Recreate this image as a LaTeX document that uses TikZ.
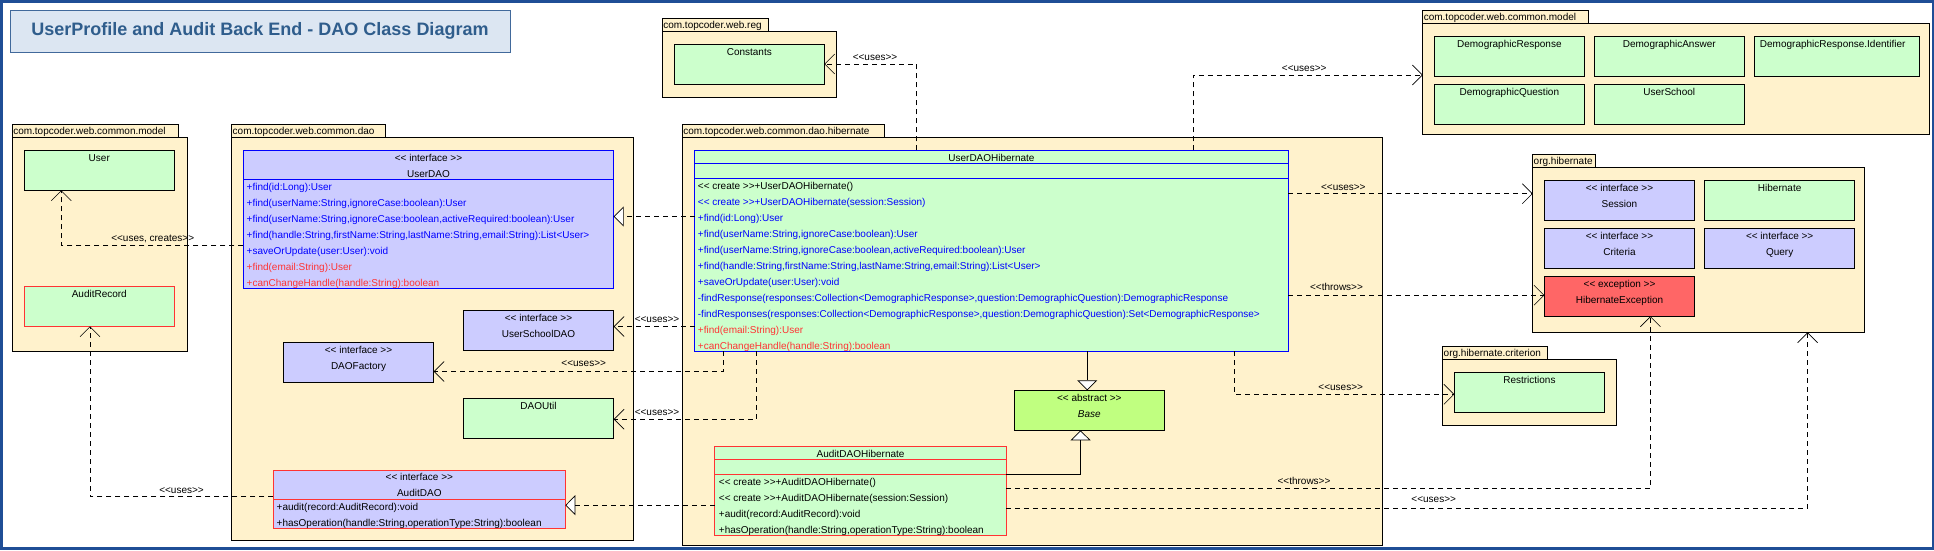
\documentclass[tikz,border=0pt]{standalone}
\usepackage{fontspec}
\setmainfont{Liberation Sans}[Ligatures=TeXOff]
\usetikzlibrary{arrows.meta}
\definecolor{pkgc}{HTML}{FFF2CC}
\definecolor{grnc}{HTML}{CCFFCC}
\definecolor{lavc}{HTML}{CCCCFF}
\definecolor{limec}{HTML}{C0FF80}
\definecolor{excc}{HTML}{FF6666}
\definecolor{mblue}{HTML}{0000FF}
\definecolor{mred}{HTML}{FF3333}
\definecolor{framec}{HTML}{1F4E96}
\definecolor{tfill}{HTML}{DCE6F2}
\definecolor{tdraw}{HTML}{41699B}
\definecolor{ttext}{HTML}{2F5D8C}
\newcommand\mth[5]{\node[txt,anchor=west,text=#4] (#1) at (#2,#3) {#5};}
\begin{document}
\begin{tikzpicture}[x=1pt,y=-1pt,
  every node/.style={inner sep=0pt, outer sep=0pt},
  box/.style={draw, line width=0.9pt, anchor=north west},
  pkgbox/.style={box, fill=pkgc},
  cls/.style={box, fill=grnc},
  ifc/.style={box, fill=lavc},
  txt/.style={font=\fontsize{10}{12}\selectfont, text height=7pt, text depth=0pt},
  dep/.style={draw, line width=0.8pt, dash pattern=on 5pt off 4pt, -{Straight Barb[length=10pt,width=20pt,line width=0.6pt]}},
  gen/.style={draw, line width=0.8pt, -{Triangle[length=10pt,width=20pt,fill=white,line width=0.7pt]}},
  real/.style={gen, dash pattern=on 5pt off 4pt},
  sep/.style={line width=0.9pt}
]
\useasboundingbox (0,0) rectangle (1934,550);
\fill[white] (0,0) rectangle (1934,550);

% title
\node[draw=tdraw, fill=tfill, line width=1pt, anchor=north west, minimum width=500pt, minimum height=42pt,
  font=\fontsize{18}{20}\selectfont\bfseries, text=ttext] (title) at (10,10) {UserProfile and Audit Back End - DAO Class Diagram};

% packages
\node[pkgbox, minimum width=166pt, minimum height=12.7pt] (P1t) at (12.3,124.3) {};
\node[pkgbox, minimum width=175.4pt, minimum height=214pt] (P1b) at (12.3,137) {};
\node[txt, anchor=west] (P1l) at ([xshift=1pt]P1t.west) {com.topcoder.web.common.model};

\node[pkgbox, minimum width=153.3pt, minimum height=13pt] (P2t) at (231.7,124.3) {};
\node[pkgbox, minimum width=401.3pt, minimum height=403.4pt] (P2b) at (231.7,137.3) {};
\node[txt, anchor=west] (P2l) at ([xshift=1pt]P2t.west) {com.topcoder.web.common.dao};

\node[pkgbox, minimum width=106pt, minimum height=13pt] (P3t) at (662.3,18.3) {};
\node[pkgbox, minimum width=174pt, minimum height=66pt] (P3b) at (662.3,31.3) {};
\node[txt, anchor=west] (P3l) at ([xshift=1pt]P3t.west) {com.topcoder.web.reg};

\node[pkgbox, minimum width=202.4pt, minimum height=12.7pt] (P4t) at (682.3,124.3) {};
\node[pkgbox, minimum width=700pt, minimum height=408.3pt] (P4b) at (682.3,137) {};
\node[txt, anchor=west] (P4l) at ([xshift=1pt]P4t.west) {com.topcoder.web.common.dao.hibernate};

\node[pkgbox, minimum width=165.2pt, minimum height=13pt] (P5t) at (1422.8,10.3) {};
\node[pkgbox, minimum width=506.5pt, minimum height=111pt] (P5b) at (1422.8,23.3) {};
\node[txt, anchor=west] (P5l) at ([xshift=1pt]P5t.west) {com.topcoder.web.common.model};

\node[pkgbox, minimum width=62.3pt, minimum height=13pt] (P6t) at (1532.7,154.3) {};
\node[pkgbox, minimum width=331.6pt, minimum height=165pt] (P6b) at (1532.7,167.3) {};
\node[txt, anchor=west] (P6l) at ([xshift=1pt]P6t.west) {org.hibernate};

\node[pkgbox, minimum width=104.7pt, minimum height=13pt] (P7t) at (1442.7,346.3) {};
\node[pkgbox, minimum width=173.5pt, minimum height=66pt] (P7b) at (1442.7,359.3) {};
\node[txt, anchor=west] (P7l) at ([xshift=1pt]P7t.west) {org.hibernate.criterion};

% frame
\draw[framec, line width=2.5pt] (1.25,1.25) rectangle (1932.75,548.5);

% classes: left model
\node[cls, minimum width=150pt, minimum height=40pt] (User) at (24.3,150.3) {};
\node[txt] (User-n) at ([yshift=-7.4pt]User.north) {User};
\node[cls, draw=mred, minimum width=150pt, minimum height=40pt] (ARec) at (24.3,286.3) {};
\node[txt] (ARec-n) at ([yshift=-7.4pt]ARec.north) {AuditRecord};

% dao package
\node[ifc, draw=mblue, minimum width=370.4pt, minimum height=137.6pt] (UDAO) at (243.3,150.7) {};
\node[txt] (UDAO-s) at ([yshift=-7pt]UDAO.north) {<< interface >>};
\node[txt] (UDAO-n) at ([yshift=-23pt]UDAO.north) {UserDAO};
\coordinate (sUD) at (0,179.3);
\draw[sep, mblue] (UDAO.west |- sUD) -- (UDAO.east |- sUD);
\mth{udm1}{246.7}{186.7}{mblue}{+find(id:Long):User}
\mth{udm2}{246.7}{202.7}{mblue}{+find(userName:String,ignoreCase:boolean):User}
\mth{udm3}{246.7}{218.7}{mblue}{+find(userName:String,ignoreCase:boolean,activeRequired:boolean):User}
\mth{udm4}{246.7}{234.7}{mblue}{+find(handle:String,firstName:String,lastName:String,email:String):List<User>}
\mth{udm5}{246.7}{250.7}{mblue}{+saveOrUpdate(user:User):void}
\mth{udm6}{246.7}{266.7}{mred}{+find(email:String):User}
\mth{udm7}{246.7}{282.7}{mred}{+canChangeHandle(handle:String):boolean}

\node[ifc, minimum width=150.4pt, minimum height=40pt] (USDAO) at (463.3,310.3) {};
\node[txt] (USDAO-s) at ([yshift=-7.4pt]USDAO.north) {<< interface >>};
\node[txt] (USDAO-n) at ([yshift=-23.4pt]USDAO.north) {UserSchoolDAO};

\node[ifc, minimum width=150.4pt, minimum height=40pt] (DAOF) at (283.3,342.3) {};
\node[txt] (DAOF-s) at ([yshift=-7.4pt]DAOF.north) {<< interface >>};
\node[txt] (DAOF-n) at ([yshift=-23.4pt]DAOF.north) {DAOFactory};

\node[cls, minimum width=150.4pt, minimum height=39.6pt] (DUtil) at (463.3,398.7) {};
\node[txt] (DUtil-n) at ([yshift=-7.4pt]DUtil.north) {DAOUtil};

\node[ifc, draw=mred, minimum width=292pt, minimum height=57.6pt] (ADAO) at (273.3,470.7) {};
\node[txt] (ADAO-s) at ([yshift=-6.6pt]ADAO.north) {<< interface >>};
\node[txt] (ADAO-n) at ([yshift=-22.6pt]ADAO.north) {AuditDAO};
\coordinate (sAD) at (0,499.3);
\draw[sep, mred] (ADAO.west |- sAD) -- (ADAO.east |- sAD);
\mth{adm1}{276.7}{506.7}{black}{+audit(record:AuditRecord):void}
\mth{adm2}{276.7}{522.7}{black}{+hasOperation(handle:String,operationType:String):boolean}

% reg package
\node[cls, minimum width=150pt, minimum height=40pt] (Const) at (674.3,44.3) {};
\node[txt] (Const-n) at ([yshift=-7.4pt]Const.north) {Constants};

% hibernate dao package
\node[cls, draw=mblue, minimum width=593.9pt, minimum height=200.7pt] (UDH) at (694.5,150.3) {};
\node[txt] (UDH-n) at ([yshift=-7.4pt]UDH.north) {UserDAOHibernate};
\coordinate (sH1) at (0,163.3);
\coordinate (sH2) at (0,178.3);
\draw[sep, mblue] (UDH.west |- sH1) -- (UDH.east |- sH1);
\draw[sep, mblue] (UDH.west |- sH2) -- (UDH.east |- sH2);
\mth{uhm1}{697.9}{185.7}{black}{<< create >>+UserDAOHibernate()}
\mth{uhm2}{697.9}{201.7}{mblue}{<< create >>+UserDAOHibernate(session:Session)}
\mth{uhm3}{697.9}{217.7}{mblue}{+find(id:Long):User}
\mth{uhm4}{697.9}{233.7}{mblue}{+find(userName:String,ignoreCase:boolean):User}
\mth{uhm5}{697.9}{249.7}{mblue}{+find(userName:String,ignoreCase:boolean,activeRequired:boolean):User}
\mth{uhm6}{697.9}{265.7}{mblue}{+find(handle:String,firstName:String,lastName:String,email:String):List<User>}
\mth{uhm7}{697.9}{281.7}{mblue}{+saveOrUpdate(user:User):void}
\mth{uhm8}{697.9}{297.7}{mblue}{-findResponse(responses:Collection<DemographicResponse>,question:DemographicQuestion):DemographicResponse}
\mth{uhm9}{697.9}{313.7}{mblue}{-findResponses(responses:Collection<DemographicResponse>,question:DemographicQuestion):Set<DemographicResponse>}
\mth{uhm10}{697.9}{329.7}{mred}{+find(email:String):User}
\mth{uhm11}{697.9}{345.7}{mred}{+canChangeHandle(handle:String):boolean}

\node[box, fill=limec, minimum width=149.8pt, minimum height=40pt] (Base) at (1014.4,390.3) {};
\node[txt] (Base-s) at ([yshift=-7.4pt]Base.north) {<< abstract >>};
\node[txt, font=\fontsize{10}{12}\selectfont\itshape] (Base-n) at ([yshift=-23.4pt]Base.north) {Base};

\node[cls, draw=mred, minimum width=291.7pt, minimum height=88.6pt] (ADH) at (714.7,446.7) {};
\node[txt] (ADH-n) at ([yshift=-7pt]ADH.north) {AuditDAOHibernate};
\coordinate (sA1) at (0,459.7);
\coordinate (sA2) at (0,474.3);
\draw[sep, mred] (ADH.west |- sA1) -- (ADH.east |- sA1);
\draw[sep, mred] (ADH.west |- sA2) -- (ADH.east |- sA2);
\mth{ahm1}{718.9}{481.7}{black}{<< create >>+AuditDAOHibernate()}
\mth{ahm2}{718.9}{497.7}{black}{<< create >>+AuditDAOHibernate(session:Session)}
\mth{ahm3}{718.9}{513.7}{black}{+audit(record:AuditRecord):void}
\mth{ahm4}{718.9}{529.7}{black}{+hasOperation(handle:String,operationType:String):boolean}

% top-right model
\node[cls, minimum width=149.9pt, minimum height=39.6pt] (DR) at (1434.4,36.7) {};
\node[txt] (DR-n) at ([yshift=-7.6pt]DR.north) {DemographicResponse};
\node[cls, minimum width=149.5pt, minimum height=39.6pt] (DA) at (1594.5,36.7) {};
\node[txt] (DA-n) at ([yshift=-7.6pt]DA.north) {DemographicAnswer};
\node[cls, minimum width=165.1pt, minimum height=39.6pt] (DRI) at (1754.2,36.7) {};
\node[txt] (DRI-n) at ([yshift=-7.6pt,xshift=-4pt]DRI.north) {DemographicResponse.Identifier};
\node[cls, minimum width=149.9pt, minimum height=40pt] (DQ) at (1434.4,84.3) {};
\node[txt] (DQ-n) at ([yshift=-8pt]DQ.north) {DemographicQuestion};
\node[cls, minimum width=149.5pt, minimum height=40pt] (USc) at (1594.5,84.3) {};
\node[txt] (USc-n) at ([yshift=-8pt]USc.north) {UserSchool};

% org.hibernate
\node[ifc, minimum width=150.2pt, minimum height=40pt] (Sess) at (1544.4,180.3) {};
\node[txt] (Sess-s) at ([yshift=-7.4pt]Sess.north) {<< interface >>};
\node[txt] (Sess-n) at ([yshift=-23.4pt]Sess.north) {Session};
\node[cls, minimum width=150.1pt, minimum height=40pt] (Hib) at (1704.6,180.3) {};
\node[txt] (Hib-n) at ([yshift=-7.4pt]Hib.north) {Hibernate};
\node[ifc, minimum width=150.2pt, minimum height=40pt] (Crit) at (1544.4,228.3) {};
\node[txt] (Crit-s) at ([yshift=-7.4pt]Crit.north) {<< interface >>};
\node[txt] (Crit-n) at ([yshift=-23.4pt]Crit.north) {Criteria};
\node[ifc, minimum width=150.1pt, minimum height=40pt] (Query) at (1704.6,228.3) {};
\node[txt] (Query-s) at ([yshift=-7.4pt]Query.north) {<< interface >>};
\node[txt] (Query-n) at ([yshift=-23.4pt]Query.north) {Query};
\node[box, fill=excc, minimum width=150.2pt, minimum height=40pt] (HExc) at (1544.4,276.3) {};
\node[txt] (HExc-s) at ([yshift=-7.4pt]HExc.north) {<< exception >>};
\node[txt] (HExc-n) at ([yshift=-23.4pt]HExc.north) {HibernateException};

% criterion
\node[cls, minimum width=150.2pt, minimum height=40pt] (Restr) at (1454.3,372.3) {};
\node[txt] (Restr-n) at ([yshift=-7.4pt]Restr.north) {Restrictions};

% helper coordinates
\coordinate (yUC) at (0,245.3);   \coordinate (xUC) at (61.3,0);
\coordinate (yAR) at (0,496.3);   \coordinate (xAR) at (90,0);
\coordinate (yR1) at (0,216.5);
\coordinate (ySch) at (0,326.5);
\coordinate (xF) at (723.1,0);    \coordinate (yF) at (0,371.5);
\coordinate (xU) at (756.4,0);    \coordinate (yU) at (0,419.2);
\coordinate (xC) at (916.3,0);    \coordinate (yC) at (0,64);
\coordinate (xM) at (1193.2,0);   \coordinate (yM) at (0,75);
\coordinate (yS) at (0,193.7);
\coordinate (yT) at (0,295.2);
\coordinate (xR) at (1234.5,0);   \coordinate (yRs) at (0,394.3);
\coordinate (xB) at (1087.2,0);
\coordinate (xG) at (1080.5,0);   \coordinate (yG) at (0,474.3);
\coordinate (yAR2) at (0,505.2);
\coordinate (xT2) at (1650.4,0);  \coordinate (yT2) at (0,488.6);
\coordinate (xU2) at (1807.6,0);  \coordinate (yU2) at (0,508.6);

% connectors
\draw[dep] (UDAO.west |- yUC) -| (User.south -| xUC);
\draw[dep] (ADAO.west |- yAR) -| (ARec.south -| xAR);
\draw[real] (UDH.west |- yR1) -- (UDAO.east |- yR1);
\draw[dep] (UDH.west |- ySch) -- (USDAO.east |- ySch);
\draw[dep] (UDH.south -| xF) |- (DAOF.east |- yF);
\draw[dep] (UDH.south -| xU) |- (DUtil.east |- yU);
\draw[dep] (UDH.north -| xC) |- (Const.east |- yC);
\draw[dep] (UDH.north -| xM) |- (P5b.west |- yM);
\draw[dep] (UDH.east |- yS) -- (P6b.west |- yS);
\draw[dep] (UDH.east |- yT) -- (HExc.west |- yT);
\draw[dep] (UDH.south -| xR) |- (Restr.west |- yRs);
\draw[gen] (UDH.south -| xB) -- (Base.north -| xB);
\draw[gen] (ADH.east |- yG) -| (Base.south -| xG);
\draw[real] (ADH.west |- yAR2) -- (ADAO.east |- yAR2);
\draw[dep] (ADH.east |- yT2) -| (HExc.south -| xT2);
\draw[dep] (ADH.east |- yU2) -| (P6b.south -| xU2);

% connector labels
\node[txt] (l1) at (152.7,237.7) {<<uses, creates>>};
\node[txt] (l2) at (181.5,490) {<<uses>>};
\node[txt] (l3) at (657,318.7) {<<uses>>};
\node[txt] (l4) at (583.7,363.3) {<<uses>>};
\node[txt] (l5) at (657,411.7) {<<uses>>};
\node[txt] (l6) at (875,56.7) {<<uses>>};
\node[txt] (l7) at (1304.2,67.7) {<<uses>>};
\node[txt] (l8) at (1343.3,186.7) {<<uses>>};
\node[txt] (l9) at (1336.5,287.3) {<<throws>>};
\node[txt] (l10) at (1340.7,386.7) {<<uses>>};
\node[txt] (l11) at (1304,480.7) {<<throws>>};
\node[txt] (l12) at (1433.7,498.7) {<<uses>>};
\end{tikzpicture}
\end{document}
